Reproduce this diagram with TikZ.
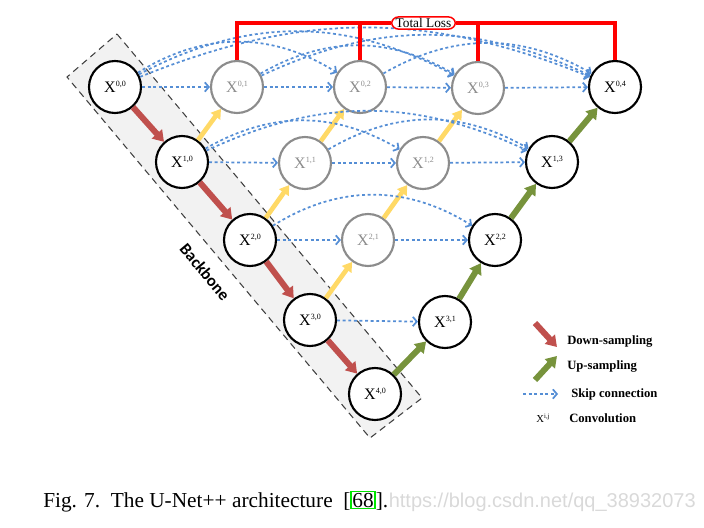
\documentclass[tikz,border=0pt]{standalone}
\usepackage{fontspec}
\setmainfont{Liberation Serif}
\newfontfamily\bbfont{Carlito}
\newfontfamily\wmfont{Liberation Sans}
\usetikzlibrary{arrows.meta,positioning}

\definecolor{downred}{RGB}{192,80,77}
\definecolor{upgreen}{RGB}{119,147,60}
\definecolor{upyellow}{RGB}{255,217,102}
\definecolor{skipblue}{RGB}{85,142,213}
\definecolor{nodegray}{RGB}{140,140,140}
\definecolor{bbfill}{RGB}{242,242,242}
\definecolor{refgreen}{RGB}{0,230,0}

\newcommand{\xlab}[1]{X\raisebox{0.8ex}{\fontsize{6pt}{6pt}\selectfont #1}}

\tikzset{
  conv/.style={circle, draw=black, line width=1.6pt, fill=white, minimum size=39pt, inner sep=0pt, font=\fontsize{12pt}{12pt}\selectfont},
  convgray/.style={conv, draw=nodegray, text=nodegray},
  downarr/.style={draw=downred, line width=4.5pt, -{Triangle[length=8pt,width=10pt]}},
  uparr/.style={draw=upgreen, line width=4.5pt, -{Triangle[length=8pt,width=10pt]}},
  midarr/.style={draw=upyellow, line width=3.5pt, -{Triangle[length=7pt,width=8.5pt]}},
  skiparr/.style={draw=skipblue, line width=1.3pt, dash pattern=on 2.2pt off 2pt, -{Straight Barb[length=3pt,width=7pt]}},
  lossline/.style={draw=red, line width=2.4pt},
  legtext/.style={anchor=west, inner sep=0.75pt, font=\fontsize{9.5pt}{9.5pt}\selectfont\bfseries}
}

\begin{document}
\begin{tikzpicture}[x=0.75pt,y=0.75pt,yscale=-1,xscale=1]
\useasboundingbox (0,0) rectangle (704,528);

%Shape: Backbone band
\draw [fill=bbfill, draw=black!75, line width=0.8pt, dash pattern={on 5pt off 3.5pt}] (117,34) -- (422,398) -- (370,438) -- (67,77) -- cycle ;
% Text Node
\draw (205,272) node [rotate=-50, font=\bbfont\bfseries\fontsize{12.5pt}{12.5pt}\selectfont] (bb) {Backbone};

%Nodes: backbone column
\draw (115,87) node [conv] (x00) {\xlab{0,0}};
\draw (182,162) node [conv] (x10) {\xlab{1,0}};
\draw (250,240) node [conv] (x20) {\xlab{2,0}};
\draw (310,320) node [conv] (x30) {\xlab{3,0}};
\draw (375,394) node [conv] (x40) {\xlab{4,0}};
%Nodes: nested
\draw (237,87) node [convgray] (x01) {\xlab{0,1}};
\draw (360,87) node [convgray] (x02) {\xlab{0,2}};
\draw (478,88) node [convgray] (x03) {\xlab{0,3}};
\draw (305,163) node [convgray] (x11) {\xlab{1,1}};
\draw (423,163) node [convgray] (x12) {\xlab{1,2}};
\draw (368,240) node [convgray] (x21) {\xlab{2,1}};
%Nodes: decoder
\draw (615,87) node [conv] (x04) {\xlab{0,4}};
\draw (552,162) node [conv] (x13) {\xlab{1,3}};
\draw (495,240) node [conv] (x22) {\xlab{2,2}};
\draw (445,322) node [conv] (x31) {\xlab{3,1}};

%Down-sampling
\draw [downarr] (x00) -- (x10) ;
\draw [downarr] (x10) -- (x20) ;
\draw [downarr] (x20) -- (x30) ;
\draw [downarr] (x30) -- (x40) ;
%Up-sampling
\draw [uparr] (x40) -- (x31) ;
\draw [uparr] (x31) -- (x22) ;
\draw [uparr] (x22) -- (x13) ;
\draw [uparr] (x13) -- (x04) ;
\draw [midarr] (x10) -- (x01) ;
\draw [midarr] (x20) -- (x11) ;
\draw [midarr] (x11) -- (x02) ;
\draw [midarr] (x30) -- (x21) ;
\draw [midarr] (x21) -- (x12) ;
\draw [midarr] (x12) -- (x03) ;

%Skip connections, straight
\draw [skiparr] (x00) -- (x01) ;
\draw [skiparr] (x01) -- (x02) ;
\draw [skiparr] (x02) -- (x03) ;
\draw [skiparr] (x03) -- (x04) ;
\draw [skiparr] (x10) -- (x11) ;
\draw [skiparr] (x11) -- (x12) ;
\draw [skiparr] (x12) -- (x13) ;
\draw [skiparr] (x20) -- (x21) ;
\draw [skiparr] (x21) -- (x22) ;
\draw [skiparr] (x30) -- (x31) ;
%Skip connections, dense (yscale=-1, so bend right goes up)
\draw [skiparr] (x00) to [bend right=32] (x02) ;
\draw [skiparr] (x00) to [bend right=28] (x03) ;
\draw [skiparr] (x00) to [bend right=22] (x04) ;
\draw [skiparr] (x01) to [bend right=30] (x03) ;
\draw [skiparr] (x01) to [bend right=25] (x04) ;
\draw [skiparr] (x02) to [bend right=30] (x04) ;
\draw [skiparr] (x10) to [bend right=30] (x12) ;
\draw [skiparr] (x10) to [bend right=25] (x13) ;
\draw [skiparr] (x11) to [bend right=30] (x13) ;
\draw [skiparr] (x20) to [bend right=32] (x22) ;

%Total loss
\draw (423.5,23) node [draw=red, line width=1.1pt, fill=white, rounded corners=5pt, inner xsep=3pt, inner ysep=1pt, font=\fontsize{10pt}{10pt}\selectfont] (loss) {Total Loss};
\draw [lossline] (x01.north) |- (loss.west) ;
\draw [lossline] (x04.north) |- (loss.east) ;
\draw [lossline] (x02.north) -- (x02.north |- loss.west) ;
\draw [lossline] (x03.north) -- (x03.north |- loss.east) ;

%Legend
\draw (566,342) node [legtext] (ldown) {Down-sampling};
\draw (566,367) node [legtext] (lup) {Up-sampling};
\draw (570,394) node [legtext] (lskip) {Skip connection};
\draw (568,418) node [legtext] (lconv) {Convolution};
\coordinate (dn1) at (535,323);
\coordinate (dn2) at (557,347);
\coordinate (up1) at (535,380);
\coordinate (up2) at (557,356);
\coordinate (sk1) at (523,394);
\coordinate (sk2) at (558,394);
\draw [downarr] (dn1) -- (dn2) ;
\draw [uparr] (up1) -- (up2) ;
\draw [skiparr] (sk1) -- (sk2) ;
\draw (543,418) node [font=\fontsize{8pt}{8pt}\selectfont, inner sep=0.75pt] (lx) {X\raisebox{0.8ex}{\fontsize{5pt}{5pt}\selectfont i,j}};

% Caption
\draw (43,507) node [anchor=base west, inner sep=0pt, font=\fontsize{16pt}{16pt}\selectfont] (cap) {Fig. 7.\enspace The U-Net++ architecture\enspace [{\color{refgreen}\setlength{\fboxsep}{0.5pt}\setlength{\fboxrule}{1pt}\fbox{\color{black}68}}].};
\node [right=0pt of cap.base east, anchor=base west, inner sep=0pt, text=black!15, font=\wmfont\fontsize{15pt}{15pt}\selectfont] (wm) {https://blog.csdn.net/qq\_38932073};

\end{tikzpicture}
\end{document}
